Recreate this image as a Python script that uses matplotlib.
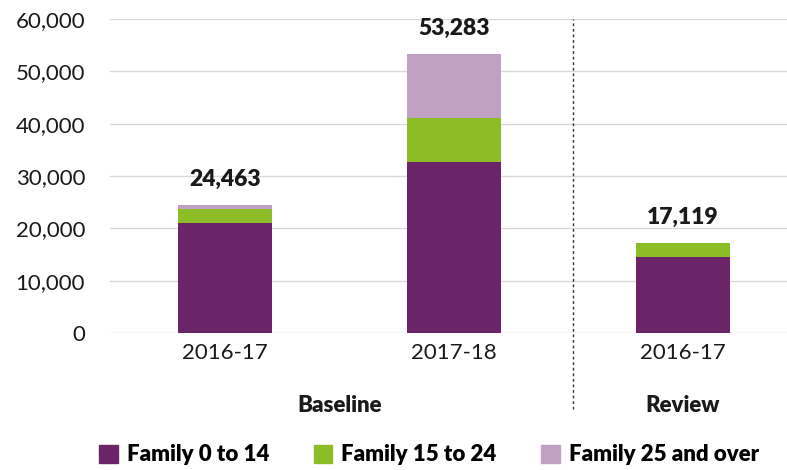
import matplotlib.pyplot as plt
from matplotlib.patches import Patch
from matplotlib.ticker import FuncFormatter

plt.rcParams['font.family'] = ['Lato', 'DejaVu Sans']

years = ["2016-17", "2017-18", "2016-17"]
groups = ["Baseline", "Review"]
series_names = ["Family 0 to 14", "Family 15 to 24", "Family 25 and over"]
fam_0_14 = [20950, 32730, 14580]
fam_15_24 = [2680, 8300, 2539]
fam_25_over = [833, 12253, 0]
totals = [24463, 53283, 17119]

colors = ["#6B2468", "#8CBD26", "#C0A1C4"]

fig = plt.figure(figsize=(7.87, 4.70), dpi=100)
ax = fig.add_axes([0.14, 0.2915, 0.86, 0.668])

x = list(range(len(years)))
w = 0.41
bottom = [0] * len(x)
for vals, c in zip([fam_0_14, fam_15_24, fam_25_over], colors):
    ax.bar(x, vals, w, bottom=bottom, color=c, zorder=3)
    bottom = [b + v for b, v in zip(bottom, vals)]

for xi, t in zip(x, totals):
    ax.text(xi, t + 4900, f"{t:,}", ha="center", va="center",
            fontsize=16.5, fontweight="heavy", color="#1a1a1a")

ax.set_ylim(0, 60000)
ax.set_xlim(-0.5, 2.455)
ax.set_yticks(range(0, 60001, 10000))
ax.yaxis.set_major_formatter(FuncFormatter(lambda v, p: f"{int(v):,}"))
ax.set_xticks(x)
ax.set_xticklabels(years)
ax.tick_params(axis="both", length=0, labelsize=16, colors="#1a1a1a")
ax.tick_params(axis="y", pad=18)
ax.tick_params(axis="x", pad=7)
ax.grid(axis="y", color="#d9d9d9", linewidth=1, zorder=0)
for s in ax.spines.values():
    s.set_visible(False)

# divider between baseline and review
ax.plot([1.52, 1.52], [-14500, 60000], ls=(0, (2, 2)), color="#333333",
        lw=1, clip_on=False)

ax.text(0.5, -13800, groups[0], ha="center", va="center",
        fontsize=16, fontweight="heavy", color="#1a1a1a")
ax.text(2, -13800, groups[1], ha="center", va="center",
        fontsize=16, fontweight="heavy", color="#1a1a1a")

handles = [Patch(color=c) for c in colors]
fig.legend(handles, series_names, loc="center", bbox_to_anchor=(0.545, 0.032),
           ncol=3, frameon=False, handlelength=0.85, handleheight=0.85,
           handletextpad=0.4, columnspacing=2.0,
           prop={"size": 16, "weight": "heavy"})

fig.savefig("out.png", dpi=100)
